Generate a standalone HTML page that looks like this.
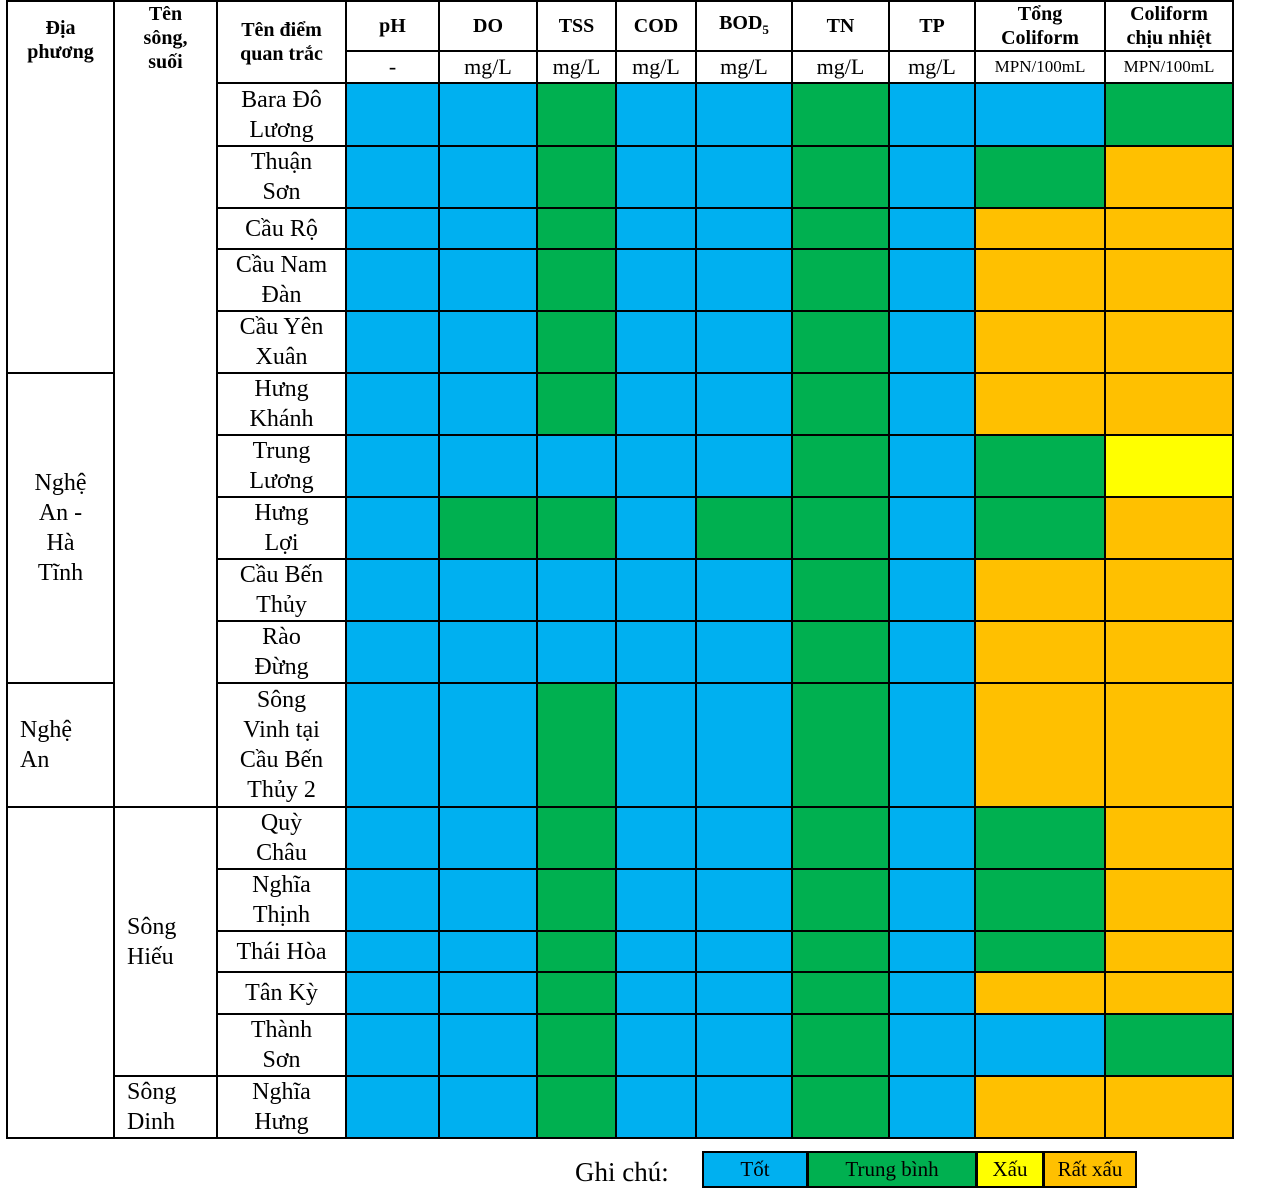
<!DOCTYPE html>
<html><head><meta charset="utf-8">
<style>
body{margin:0;background:#fff;width:1261px;height:1200px;position:relative;overflow:hidden;font-family:"Liberation Serif",serif;}
table{position:absolute;left:6px;top:0;border-collapse:collapse;table-layout:fixed;}
td{border:2px solid #000;padding:0;text-align:center;vertical-align:middle;font-size:24px;line-height:30px;color:#000;}
.h{font-weight:bold;font-size:20px;line-height:24px;}
.u{font-size:22px;}
.m{font-size:17px;}
.b{background:#00B0F0}.g{background:#00B050}.o{background:#FFC000}.y{background:#FFFF00}
.legend{position:absolute;top:1151px;height:37px;border:2px solid #000;box-sizing:border-box;font-size:21px;line-height:33px;text-align:center;}
</style></head><body>
<table>
<colgroup><col style="width:107px"><col style="width:103px"><col style="width:129px"><col style="width:93px"><col style="width:98px"><col style="width:79px"><col style="width:80px"><col style="width:96px"><col style="width:97px"><col style="width:86px"><col style="width:130px"><col style="width:128px"></colgroup>
<tr style="height:50px"><td rowspan="7" class="h" style="vertical-align:top;padding-top:14px">Địa<br>phương</td><td rowspan="13" class="h" style="vertical-align:top;line-height:24px">Tên<br>sông,<br>suối</td><td rowspan="2" class="h">Tên điểm<br>quan trắc</td><td class="h">pH</td><td class="h">DO</td><td class="h">TSS</td><td class="h">COD</td><td class="h">BOD<sub style="font-size:13px">5</sub></td><td class="h">TN</td><td class="h">TP</td><td class="h">Tổng<br>Coliform</td><td class="h">Coliform<br>chịu nhiệt</td></tr>
<tr style="height:32px"><td class="u">-</td><td class="u">mg/L</td><td class="u">mg/L</td><td class="u">mg/L</td><td class="u">mg/L</td><td class="u">mg/L</td><td class="u">mg/L</td><td class="m">MPN/100mL</td><td class="m">MPN/100mL</td></tr>
<tr style="height:63px"><td>Bara Đô<br>Lương</td><td class="b"></td><td class="b"></td><td class="g"></td><td class="b"></td><td class="b"></td><td class="g"></td><td class="b"></td><td class="b"></td><td class="g"></td></tr>
<tr style="height:62px"><td>Thuận<br>Sơn</td><td class="b"></td><td class="b"></td><td class="g"></td><td class="b"></td><td class="b"></td><td class="g"></td><td class="b"></td><td class="g"></td><td class="o"></td></tr>
<tr style="height:41px"><td>Cầu Rộ</td><td class="b"></td><td class="b"></td><td class="g"></td><td class="b"></td><td class="b"></td><td class="g"></td><td class="b"></td><td class="o"></td><td class="o"></td></tr>
<tr style="height:62px"><td>Cầu Nam<br>Đàn</td><td class="b"></td><td class="b"></td><td class="g"></td><td class="b"></td><td class="b"></td><td class="g"></td><td class="b"></td><td class="o"></td><td class="o"></td></tr>
<tr style="height:62px"><td>Cầu Yên<br>Xuân</td><td class="b"></td><td class="b"></td><td class="g"></td><td class="b"></td><td class="b"></td><td class="g"></td><td class="b"></td><td class="o"></td><td class="o"></td></tr>
<tr style="height:62px"><td rowspan="5">Nghệ<br>An -<br>Hà<br>Tĩnh</td><td>Hưng<br>Khánh</td><td class="b"></td><td class="b"></td><td class="g"></td><td class="b"></td><td class="b"></td><td class="g"></td><td class="b"></td><td class="o"></td><td class="o"></td></tr>
<tr style="height:62px"><td>Trung<br>Lương</td><td class="b"></td><td class="b"></td><td class="b"></td><td class="b"></td><td class="b"></td><td class="g"></td><td class="b"></td><td class="g"></td><td class="y"></td></tr>
<tr style="height:62px"><td>Hưng<br>Lợi</td><td class="b"></td><td class="g"></td><td class="g"></td><td class="b"></td><td class="g"></td><td class="g"></td><td class="b"></td><td class="g"></td><td class="o"></td></tr>
<tr style="height:62px"><td>Cầu Bến<br>Thủy</td><td class="b"></td><td class="b"></td><td class="b"></td><td class="b"></td><td class="b"></td><td class="g"></td><td class="b"></td><td class="o"></td><td class="o"></td></tr>
<tr style="height:62px"><td>Rào<br>Đừng</td><td class="b"></td><td class="b"></td><td class="b"></td><td class="b"></td><td class="b"></td><td class="g"></td><td class="b"></td><td class="o"></td><td class="o"></td></tr>
<tr style="height:124px"><td style="text-align:left;padding-left:12px">Nghệ<br>An</td><td>Sông<br>Vinh tại<br>Cầu Bến<br>Thủy 2</td><td class="b"></td><td class="b"></td><td class="g"></td><td class="b"></td><td class="b"></td><td class="g"></td><td class="b"></td><td class="o"></td><td class="o"></td></tr>
<tr style="height:62px"><td rowspan="6"></td><td rowspan="5" style="text-align:left;padding-left:12px">Sông<br>Hiếu</td><td>Quỳ<br>Châu</td><td class="b"></td><td class="b"></td><td class="g"></td><td class="b"></td><td class="b"></td><td class="g"></td><td class="b"></td><td class="g"></td><td class="o"></td></tr>
<tr style="height:62px"><td>Nghĩa<br>Thịnh</td><td class="b"></td><td class="b"></td><td class="g"></td><td class="b"></td><td class="b"></td><td class="g"></td><td class="b"></td><td class="g"></td><td class="o"></td></tr>
<tr style="height:41px"><td>Thái Hòa</td><td class="b"></td><td class="b"></td><td class="g"></td><td class="b"></td><td class="b"></td><td class="g"></td><td class="b"></td><td class="g"></td><td class="o"></td></tr>
<tr style="height:42px"><td>Tân Kỳ</td><td class="b"></td><td class="b"></td><td class="g"></td><td class="b"></td><td class="b"></td><td class="g"></td><td class="b"></td><td class="o"></td><td class="o"></td></tr>
<tr style="height:62px"><td>Thành<br>Sơn</td><td class="b"></td><td class="b"></td><td class="g"></td><td class="b"></td><td class="b"></td><td class="g"></td><td class="b"></td><td class="b"></td><td class="g"></td></tr>
<tr style="height:62px"><td style="text-align:left;padding-left:12px">Sông<br>Dinh</td><td>Nghĩa<br>Hưng</td><td class="b"></td><td class="b"></td><td class="g"></td><td class="b"></td><td class="b"></td><td class="g"></td><td class="b"></td><td class="o"></td><td class="o"></td></tr>
</table>
<div style="position:absolute;left:575px;top:1155px;font-size:27px;line-height:34px">Ghi chú:</div>
<div class="legend b" style="left:702px;width:106px">Tốt</div>
<div class="legend g" style="left:807px;width:170px">Trung bình</div>
<div class="legend y" style="left:976px;width:68px">Xấu</div>
<div class="legend o" style="left:1043px;width:94px">Rất xấu</div>
</body></html>
